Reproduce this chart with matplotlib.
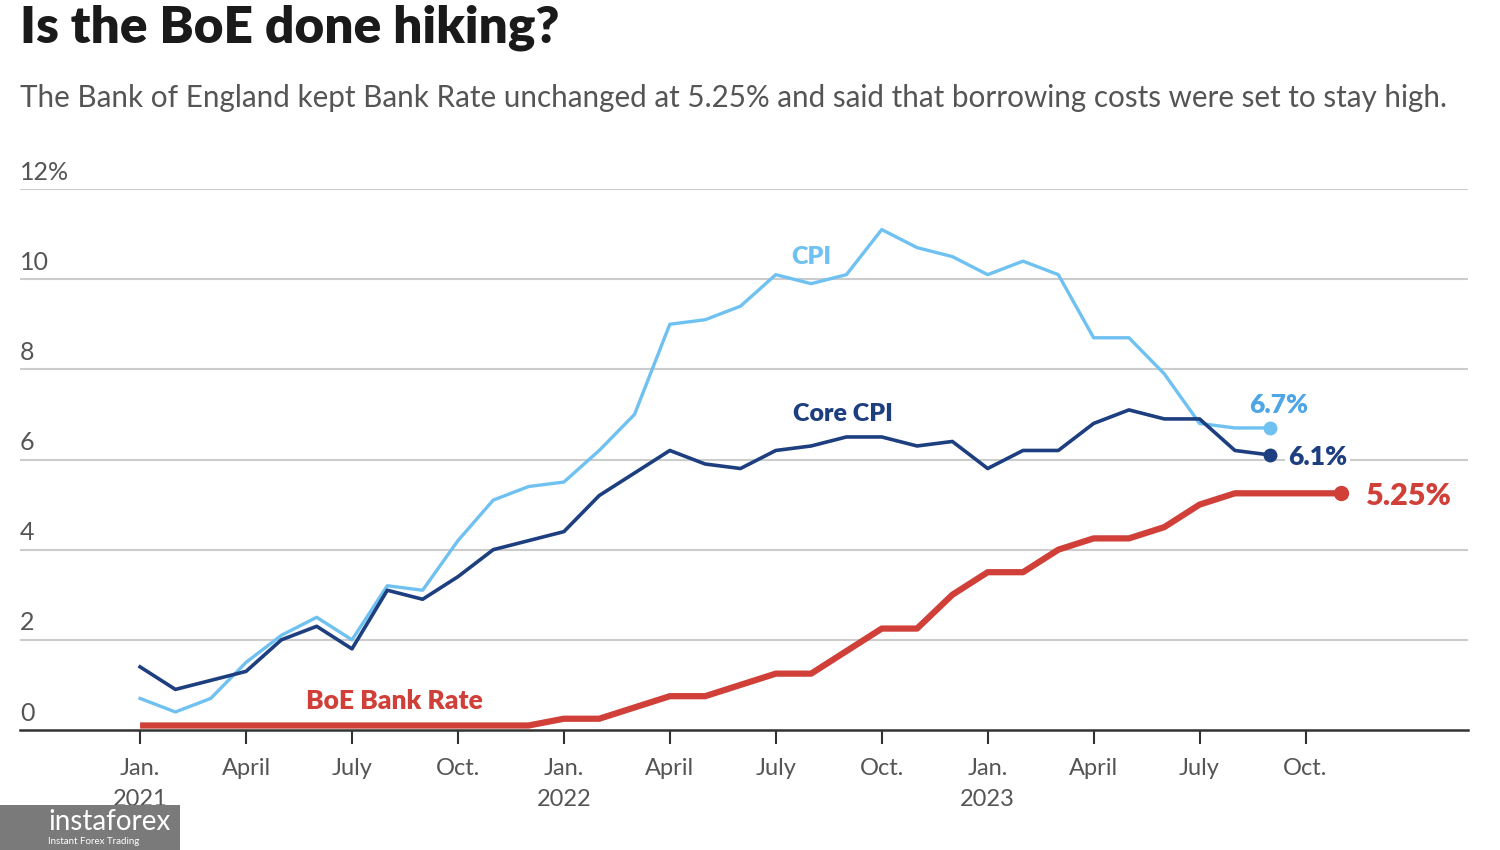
import matplotlib.pyplot as plt
from matplotlib.patches import Rectangle

# Monthly values, Jan 2021 onwards
cpi = [0.7, 0.4, 0.7, 1.5, 2.1, 2.5, 2.0, 3.2, 3.1, 4.2, 5.1, 5.4,
       5.5, 6.2, 7.0, 9.0, 9.1, 9.4, 10.1, 9.9, 10.1, 11.1, 10.7, 10.5,
       10.1, 10.4, 10.1, 8.7, 8.7, 7.9, 6.8, 6.7, 6.7]
core_cpi = [1.4, 0.9, 1.1, 1.3, 2.0, 2.3, 1.8, 3.1, 2.9, 3.4, 4.0, 4.2,
            4.4, 5.2, 5.7, 6.2, 5.9, 5.8, 6.2, 6.3, 6.5, 6.5, 6.3, 6.4,
            5.8, 6.2, 6.2, 6.8, 7.1, 6.9, 6.9, 6.2, 6.1]
bank_rate = [0.1, 0.1, 0.1, 0.1, 0.1, 0.1, 0.1, 0.1, 0.1, 0.1, 0.1, 0.1,
             0.25, 0.25, 0.5, 0.75, 0.75, 1.0, 1.25, 1.25, 1.75, 2.25, 2.25, 3.0,
             3.5, 3.5, 4.0, 4.25, 4.25, 4.5, 5.0, 5.25, 5.25, 5.25, 5.25]

tick_pos = [0, 3, 6, 9, 12, 15, 18, 21, 24, 27, 30, 33]
tick_labels = ["Jan.\n2021", "April", "July", "Oct.", "Jan.\n2022", "April",
               "July", "Oct.", "Jan.\n2023", "April", "July", "Oct."]
y_ticks = [0, 2, 4, 6, 8, 10, 12]
y_labels = ["0", "2", "4", "6", "8", "10", "12%"]

LIGHT = "#6ec1f0"
LIGHT_TXT = "#4ea6e6"
NAVY = "#1d3f80"
RED = "#d03f38"
FONT = "Lato"

fig = plt.figure(figsize=(15, 8.5), dpi=100)
ax = fig.add_axes([20 / 1500, 1 - 730 / 850, 1448 / 1500, 541 / 850])

x_lo, x_hi = -3.4, 37.6
ax.set_xlim(x_lo, x_hi)
ax.set_ylim(0, 12)

for v in y_ticks[1:]:
    ax.axhline(v, color="#cccccc", lw=1.5, zorder=0)
for v, lab in zip(y_ticks, y_labels):
    ax.text(x_lo, v + 0.12, lab, fontsize=18, color="#555555", family=FONT,
            ha="left", va="bottom")

ax.plot(range(len(cpi)), cpi, color=LIGHT, lw=2.4, zorder=3, clip_on=False)
ax.plot(range(len(core_cpi)), core_cpi, color=NAVY, lw=2.6, zorder=4, clip_on=False)
ax.plot(range(len(bank_rate)), bank_rate, color=RED, lw=4.5, zorder=5, clip_on=False,
        solid_capstyle="butt")

ax.plot(len(cpi) - 1, cpi[-1], "o", color=LIGHT, ms=9, zorder=6)
ax.plot(len(core_cpi) - 1, core_cpi[-1], "o", color=NAVY, ms=9, zorder=6)
ax.plot(len(bank_rate) - 1, bank_rate[-1], "o", color=RED, ms=10, zorder=6)

# series labels
lab_kw = dict(fontweight="heavy", family=FONT, va="center")
ax.text(19.0, 10.5, "CPI", color=LIGHT, fontsize=18, ha="center", **lab_kw)
ax.text(19.9, 7.0, "Core CPI", color=NAVY, fontsize=18, ha="center", **lab_kw)
ax.text(7.2, 0.65, "BoE Bank Rate", color=RED, fontsize=19, ha="center", **lab_kw)
ax.text(31.4, 7.2, "6.7%", color=LIGHT_TXT, fontsize=19, ha="left", **lab_kw)
ax.text(32.5, 6.05, "6.1%", color=NAVY, fontsize=19, ha="left", zorder=7,
        bbox=dict(facecolor="white", edgecolor="none", pad=2), **lab_kw)
ax.text(34.7, 5.2, "5.25%", color=RED, fontsize=22, ha="left", **lab_kw)

for s in ["top", "right", "left"]:
    ax.spines[s].set_visible(False)
ax.spines["bottom"].set_color("#333333")
ax.spines["bottom"].set_linewidth(1.8)
ax.set_yticks([])
ax.set_xticks(tick_pos)
ax.set_xticklabels(tick_labels, fontsize=17, color="#555555", family=FONT,
                   linespacing=1.6)
ax.tick_params(axis="x", length=10, width=1.5, color="#333333", pad=10)

fig.text(20 / 1500, 1 - 28 / 850, "Is the BoE done hiking?", fontsize=37,
         fontweight="heavy", family=FONT, color="#1a1a1a", va="center", ha="left")
fig.text(20 / 1500, 1 - 98 / 850,
         "The Bank of England kept Bank Rate unchanged at 5.25% and said that borrowing costs were set to stay high.",
         fontsize=21.3, family=FONT, color="#555555", va="center", ha="left")

# watermark
fig.patches.append(Rectangle((0, 0), 180 / 1500, 45 / 850, transform=fig.transFigure,
                             facecolor="#7a7a7a", edgecolor="none", zorder=10))
fig.text(48 / 1500, 1 - 822 / 850, "instaforex", fontsize=20, color="white",
         family=FONT, va="center", ha="left", zorder=11)
fig.text(48 / 1500, 1 - 841 / 850, "Instant Forex Trading", fontsize=7, color="white",
         family=FONT, va="center", ha="left", zorder=11)

fig.savefig("out.png", dpi=100)
